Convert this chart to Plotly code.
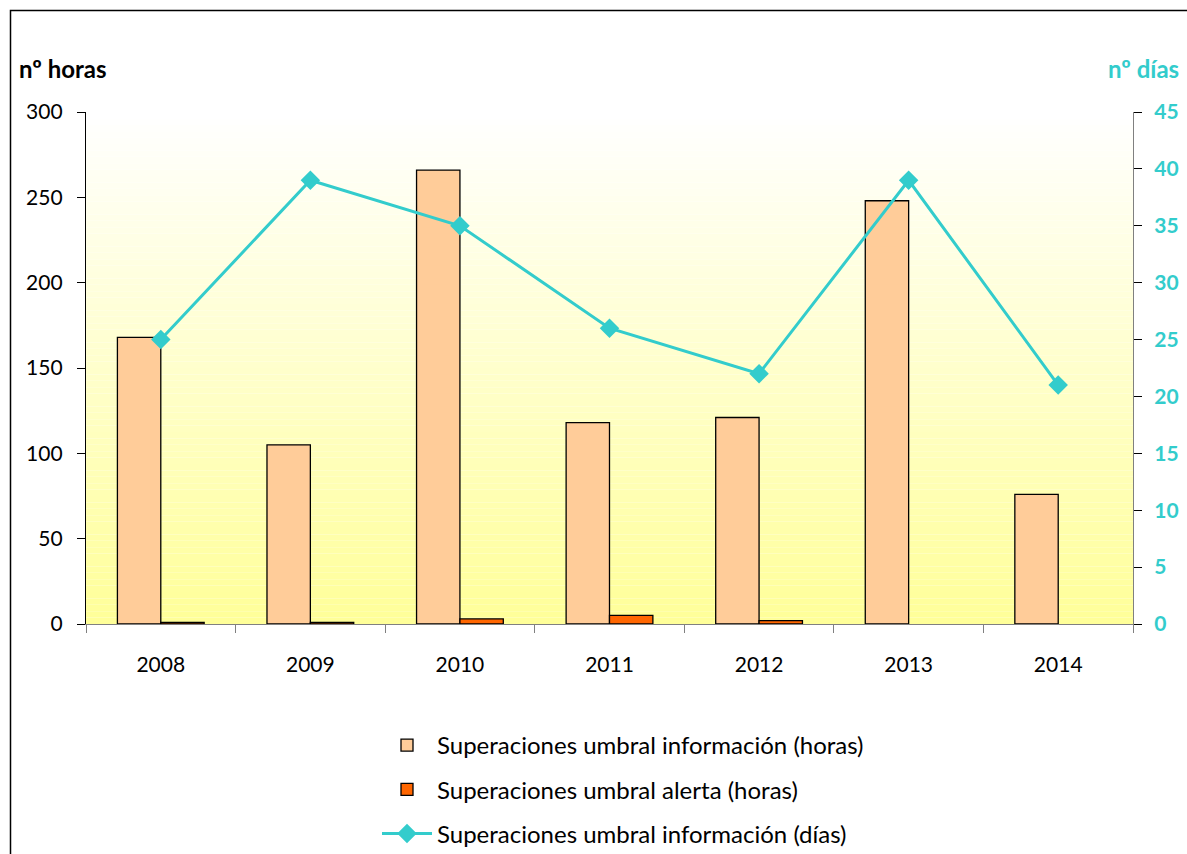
import plotly.graph_objects as go

# Años y superaciones del umbral de ozono
years = ["2008", "2009", "2010", "2011", "2012", "2013", "2014"]
info_hours = [168, 105, 266, 118, 121, 248, 76]
alert_hours = [1, 1, 3, 5, 2, 0, 0]
info_days = [25, 39, 35, 26, 22, 39, 21]

left_ticks = [0, 50, 100, 150, 200, 250, 300]
right_ticks = [0, 5, 10, 15, 20, 25, 30, 35, 40, 45]

FONT = "Lato, Carlito, Calibri, sans-serif"
CYAN = "#33CCCC"

W, H = 1187, 854
ML, MR, MT, MB = 86, 54, 112, 230
PW, PH = W - ML - MR, H - MT - MB


def px_x(v):
    return (v - ML) / PW


def px_y(v):
    return (H - MB - v) / PH


def outline_widths(values):
    # sin contorno para las barras de altura cero
    return [1.3 if v > 0 else 0 for v in values]


fig = go.Figure()

fig.add_trace(go.Bar(
    x=years, y=info_hours, name="Superaciones umbral información (horas)",
    marker=dict(color="#FFCC99",
                line=dict(color="black", width=outline_widths(info_hours))),
    legendgroup="a",
))
fig.add_trace(go.Bar(
    x=years, y=alert_hours, name="Superaciones umbral alerta (horas)",
    marker=dict(color="#FF6600",
                line=dict(color="black", width=outline_widths(alert_hours))),
    legendgroup="b",
))
fig.add_trace(go.Scatter(
    x=years, y=info_days, name="Superaciones umbral información (días)",
    mode="lines+markers", yaxis="y2",
    line=dict(color=CYAN, width=3),
    marker=dict(symbol="diamond", size=15, color=CYAN),
    legendgroup="c",
))

# Fondo degradado del área de trazado: blanco arriba, amarillo abajo
shapes = []
n = 80
for i in range(n):
    t = i / (n - 1)  # 0 abajo, 1 arriba
    b = int(round(0x99 + (0xFF - 0x99) * t))
    shapes.append(dict(
        type="rect", xref="paper", yref="paper",
        x0=0, x1=1, y0=i / n, y1=(i + 1) / n,
        fillcolor=f"rgb(255,255,{b})", line=dict(width=0), layer="below",
    ))

# Marco exterior del gráfico
shapes.append(dict(
    type="rect", xref="paper", yref="paper",
    x0=px_x(10.5), y0=px_y(10.5), x1=px_x(W + 20), y1=px_y(H + 20),
    line=dict(color="black", width=1.5), fillcolor="rgba(0,0,0,0)",
))

fig.update_layout(
    width=W, height=H,
    margin=dict(l=ML, r=MR, t=MT, b=MB, autoexpand=False),
    paper_bgcolor="white", plot_bgcolor="white",
    barmode="group", bargap=0.42, bargroupgap=0,
    font=dict(family=FONT, size=21, color="black"),
    shapes=shapes,
    showlegend=True,
    legend=dict(
        orientation="v", x=px_x(377), y=px_y(723), xanchor="left", yanchor="top",
        font=dict(family=FONT, size=24, color="black"),
        tracegroupgap=10, itemwidth=50, bgcolor="rgba(0,0,0,0)",
    ),
    xaxis=dict(
        type="category", tickson="boundaries", ticks="outside", ticklen=8,
        tickcolor="#808080", showline=True, linecolor="#808080", linewidth=1.3,
        showgrid=False, ticklabelstandoff=22,
        tickfont=dict(family=FONT, size=21),
    ),
    yaxis=dict(
        range=[0, 300], tickvals=left_ticks, ticks="outside", ticklen=8,
        tickcolor="black", showline=True, linecolor="black", linewidth=1.3,
        showgrid=False, zeroline=False, ticklabelstandoff=10,
        tickfont=dict(family=FONT, size=21, color="black"),
    ),
    yaxis2=dict(
        range=[0, 45], tickvals=right_ticks,
        ticktext=[f"<b>{v}</b>" for v in right_ticks],
        overlaying="y", side="right",
        ticks="outside", ticklen=8, tickcolor="black",
        showline=True, linecolor="#808080", linewidth=1.3,
        showgrid=False, zeroline=False, ticklabelstandoff=8,
        tickfont=dict(family=FONT, size=21, color=CYAN),
    ),
    annotations=[
        dict(text="<b>nº horas</b>", xref="paper", yref="paper",
             x=px_x(17), y=px_y(68), xanchor="left", yanchor="middle",
             showarrow=False, font=dict(family=FONT, size=24, color="black")),
        dict(text="<b>nº días</b>", xref="paper", yref="paper",
             x=px_x(1181), y=px_y(68), xanchor="right", yanchor="middle",
             showarrow=False, font=dict(family=FONT, size=24, color=CYAN)),
    ],
)

fig.write_html("out.html")
